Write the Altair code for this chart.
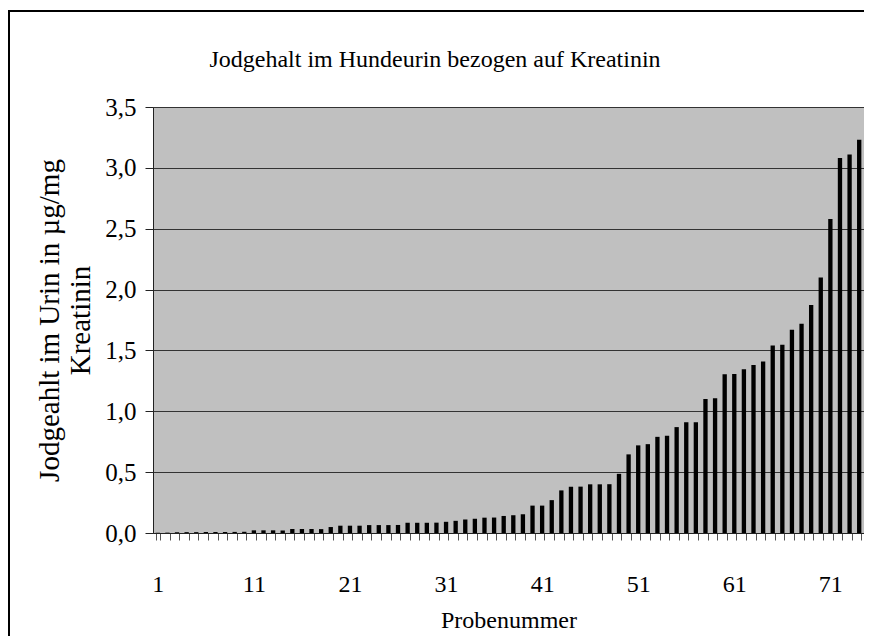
import altair as alt
import pandas as pd

# Sample numbers 1..74 and values (µg Jod / mg Kreatinin)
probe = list(range(1, 75))
werte = [0.002, 0.003, 0.006, 0.007, 0.007, 0.008, 0.008, 0.008, 0.009, 0.010,
         0.022, 0.022, 0.022, 0.021, 0.033, 0.033, 0.033, 0.032, 0.049, 0.060,
         0.060, 0.060, 0.065, 0.065, 0.065, 0.066, 0.084, 0.084, 0.084, 0.085,
         0.092, 0.100, 0.111, 0.117, 0.126, 0.127, 0.140, 0.146, 0.154, 0.225,
         0.225, 0.270, 0.350, 0.380, 0.381, 0.400, 0.400, 0.401, 0.486, 0.646,
         0.720, 0.730, 0.790, 0.800, 0.870, 0.910, 0.910, 1.100, 1.107, 1.305,
         1.306, 1.346, 1.380, 1.410, 1.540, 1.547, 1.670, 1.720, 1.874, 2.100,
         2.580, 3.080, 3.110, 3.230]
y_ticks = [0, 0.5, 1.0, 1.5, 2.0, 2.5, 3.0, 3.5]

titel = "Jodgehalt im Hundeurin bezogen auf Kreatinin"
x_titel = "Probenummer"
y_titel = ["Jodgeahlt im Urin in µg/mg", "Kreatinin"]

df = pd.DataFrame({"Probe": probe, "Wert": werte})
one = pd.DataFrame({"a": [0]})
FONT = "Liberation Serif"

W, H = 711, 426

bars = alt.Chart(df).mark_bar(color="black").encode(
    x=alt.X("Probe:O",
            scale=alt.Scale(paddingInner=0.55, paddingOuter=0.275),
            axis=alt.Axis(
                title=x_titel,
                labelExpr="(datum.value - 1) % 10 === 0 ? datum.label : ''",
                labelOverlap=False,
                labelAngle=0,
                labelFont=FONT, labelFontSize=24, labelColor="black",
                labelBaseline="alphabetic", labelPadding=51,
                tickBand="extent", tickSize=7, tickColor="#555555",
                domainColor="#222222",
                titleFont=FONT, titleFontSize=24, titleFontWeight="normal",
                titleColor="black", titleBaseline="alphabetic",
                titleY=94, titleX=W / 2, titleAnchor="middle",
                grid=False)),
    y=alt.Y("Wert:Q",
            scale=alt.Scale(domain=[0, 3.5], nice=False),
            axis=alt.Axis(
                title=y_titel,
                values=y_ticks,
                labelExpr="replace(format(datum.value, '.1f'), '.', ',')",
                labelFont=FONT, labelFontSize=25, labelColor="black",
                labelPadding=9, tickSize=8, tickColor="#222222",
                domainColor="#222222",
                grid=True, gridColor="#333333", gridWidth=1,
                titleFont=FONT, titleFontSize=29, titleFontWeight="normal",
                titleColor="black", titleBaseline="alphabetic",
                titleLineHeight=31, titleAngle=-90,
                titleX=-95, titleY=H / 2, titleAlign="center")),
)

frame = alt.Chart(one).mark_rect(
    fill=None, stroke="black", strokeWidth=2
).encode(
    x=alt.value(-144), x2=alt.value(740),
    y=alt.value(-96), y2=alt.value(560),
)

title_mark = alt.Chart(one).mark_text(
    text=titel, font=FONT, fontSize=24, color="black",
    align="center", baseline="alphabetic"
).encode(x=alt.value(282), y=alt.value(-40))

chart = alt.layer(frame, bars, title_mark).properties(
    width=W, height=H,
    autosize=alt.AutoSizeParams(type="none"),
    padding={"left": 145, "top": 99, "right": 0, "bottom": 103},
).configure(
    background="white"
).configure_view(
    fill="#c0c0c0", stroke="#808080", strokeWidth=1
)

chart.save("out.html", embed_options={"renderer": "svg", "actions": False})
